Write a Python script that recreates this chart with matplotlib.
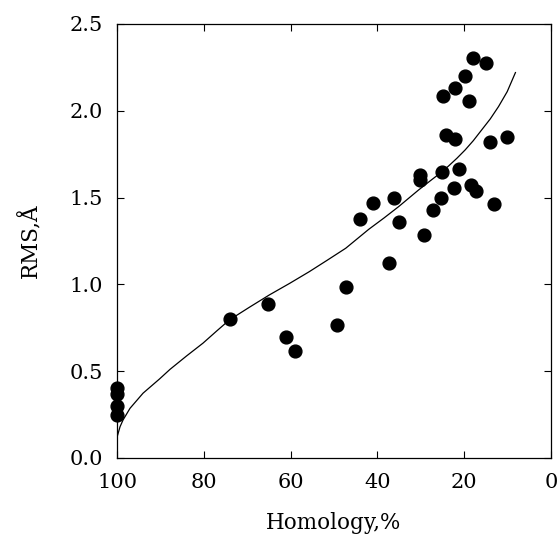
import matplotlib
matplotlib.use("Agg")
import matplotlib.pyplot as plt

# measured points (homology %, RMS in Å)
homology = [100, 100, 100, 100, 74.0, 65.1, 61.1, 59.0, 49.4, 47.2,
            43.9, 41.0, 37.3, 36.1, 35.1, 30.1, 30.1, 29.2, 27.3, 25.3,
            25.2, 24.9, 24.1, 22.1, 22.1, 22.3, 21.3, 19.9, 19.0, 18.4,
            17.3, 18.0, 15.0, 14.1, 13.2, 10.1]
rms = [0.40, 0.37, 0.30, 0.25, 0.80, 0.885, 0.695, 0.616, 0.766, 0.985,
       1.376, 1.468, 1.123, 1.497, 1.357, 1.628, 1.603, 1.284, 1.428, 1.497,
       1.647, 2.086, 1.858, 1.837, 2.134, 1.555, 1.664, 2.203, 2.056, 1.570,
       1.536, 2.303, 2.274, 1.818, 1.463, 1.846]

# fitted curve
fit_h = [100, 99.3, 98.6, 97.0, 94.0, 90.2, 87.8, 84.0, 80.2, 77.0, 74.1,
         69.5, 64.9, 60.2, 55.7, 51.5, 47.3, 42.0, 38.5, 35.1, 30.5, 27.8,
         25.1, 23.6, 21.7, 19.8, 17.9, 16.0, 14.0, 12.1, 10.1, 8.2]
fit_rms = [0.119, 0.18, 0.219, 0.286, 0.373, 0.455, 0.51, 0.587, 0.661, 0.732,
           0.795, 0.868, 0.939, 1.006, 1.073, 1.14, 1.208, 1.317, 1.382, 1.448,
           1.544, 1.597, 1.649, 1.682, 1.726, 1.774, 1.828, 1.889, 1.953, 2.024,
           2.11, 2.22]

plt.rcParams['font.family'] = ['DejaVu Serif']

fig = plt.figure(figsize=(5.58, 5.40), dpi=100)
ax = fig.add_axes([0.2097, 0.152, 0.7778, 0.8036])

ax.plot(fit_h, fit_rms, color='black', lw=0.9)
ax.scatter(homology, rms, s=85, color='black', zorder=3, clip_on=False)

ax.set_xlim(100, 0)
ax.set_ylim(0, 2.5)
ax.set_xticks([100, 80, 60, 40, 20, 0])
ax.set_yticks([0.0, 0.5, 1.0, 1.5, 2.0, 2.5])
ax.set_yticklabels(['0.0', '0.5', '1.0', '1.5', '2.0', '2.5'])
ax.tick_params(direction='in', top=True, right=True, length=5, width=0.8,
               labelsize=15)
ax.tick_params(axis='x', pad=11)
ax.tick_params(axis='y', pad=10)
for s in ax.spines.values():
    s.set_linewidth(0.9)

ax.set_xlabel('Homology,%', fontsize=15.5, labelpad=14)
ax.set_ylabel('RMS,Å', fontsize=15.5, labelpad=20)

fig.savefig('out.png', dpi=100)
